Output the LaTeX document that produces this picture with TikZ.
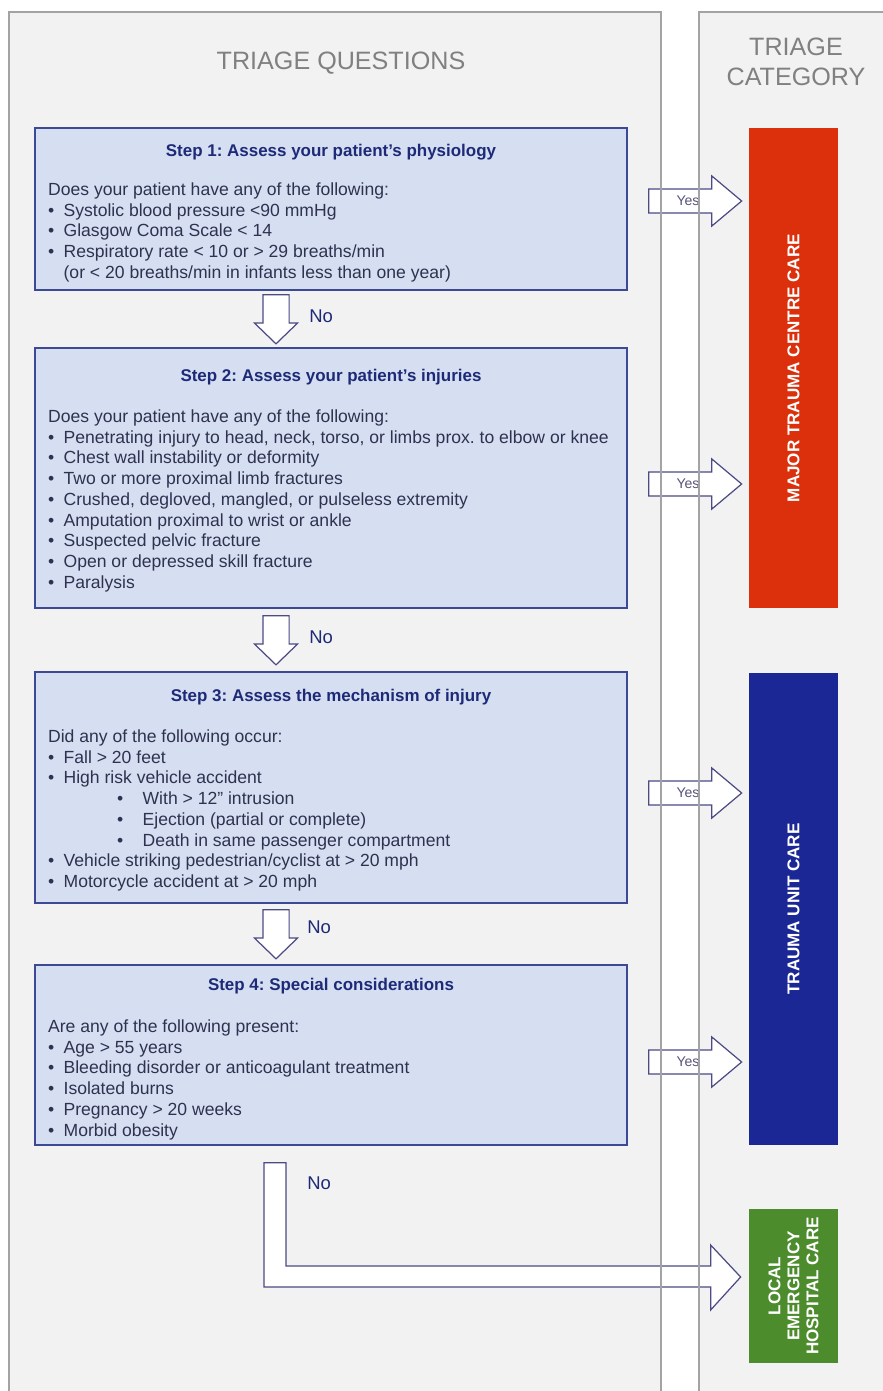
\documentclass[tikz,border=0pt]{standalone}
\usepackage{fontspec}
\setmainfont{Liberation Sans}
\usetikzlibrary{positioning, calc, shapes.arrows}

\definecolor{panelgray}{HTML}{F2F2F2}
\definecolor{panelline}{HTML}{A3A3A3}
\definecolor{boxfill}{HTML}{D5DFF1}
\definecolor{boxline}{HTML}{3C4A96}
\definecolor{titleblue}{HTML}{1E2A78}
\definecolor{bodytext}{HTML}{2E3250}
\definecolor{arrowline}{HTML}{4B4B86}
\definecolor{yestext}{HTML}{55557A}
\definecolor{majorred}{HTML}{DC2F0C}
\definecolor{unitblue}{HTML}{1B2795}
\definecolor{localgreen}{HTML}{4C8C2C}
\definecolor{headgray}{HTML}{808080}

\newcommand{\itm}{\makebox[3.1mm][l]{\textbullet}}
\newcommand{\subitm}{\hspace*{13.8mm}\makebox[5.1mm][l]{\textbullet}}

\tikzset{
  stepbox/.style={draw=boxline, fill=boxfill, line width=0.8pt, minimum width=118.4mm, inner sep=0pt},
  steptitle/.style={font=\fontsize{9.65}{11}\selectfont\bfseries, text=titleblue, inner sep=0pt, anchor=base},
  stepbody/.style={font=\fontsize{10}{11.8}\selectfont, text=bodytext, align=left, inner sep=0pt, anchor=north west},
  yesarrow/.style={shape=single arrow, draw=arrowline, fill=white, line width=0.7pt, minimum height=18.6mm, minimum width=10mm, single arrow head extend=2.5mm, single arrow tip angle=80, inner xsep=1pt, inner ysep=1.2mm, font=\fontsize{8}{9}\selectfont, text=yestext},
  noarrow/.style={shape=single arrow, draw=arrowline, fill=white, line width=0.7pt, minimum height=9.8mm, single arrow head extend=1.7mm, single arrow tip angle=92, shape border rotate=270, inner sep=2.5mm},
  nolabel/.style={font=\fontsize{10.5}{12}\selectfont, text=titleblue, inner sep=0pt, anchor=west},
  fatarrow/.style={draw=arrowline, fill=white, line width=0.7pt, line join=miter},
  category/.style={minimum width=17.8mm, inner sep=0pt},
  catlabel/.style={rotate=90, text=white, font=\fontsize{9.7}{10.8}\selectfont\bfseries, align=center},
  heading/.style={font=\fontsize{14.3}{17}\selectfont, text=headgray, align=center},
  panelrule/.style={draw=panelline, line width=0.6pt}
}

\begin{document}
\frenchspacing
\begin{tikzpicture}[x=0.2mm, y=-0.2mm]
\useasboundingbox (0,0) rectangle (883,1391);
\clip (0,0) rectangle (883,1391);

% columns
\fill [panelgray] (9,12) rectangle (661,1400);
\fill [panelgray] (699,12) rectangle (900,1400);

\node (qhead) [heading] at (341,63) {TRIAGE QUESTIONS};
\node (chead) [heading] at (796,62) {TRIAGE\\CATEGORY};

% steps
\node (s1) [stepbox, minimum height=32.4mm] at (331,209) {};
\node (s2) [stepbox, minimum height=52mm] at (331,478) {};
\node (s3) [stepbox, minimum height=46.2mm] at (331,787.5) {};
\node (s4) [stepbox, minimum height=36mm] at (331,1055) {};

\node (t1) [steptitle] at ($(s1.north)+(0,29)$) {Step 1: Assess your patient's physiology};
\node (b1) [stepbody] at ($(s1.north west)+(13.5,55)$) {Does your patient have any of the following:\\
\itm Systolic blood pressure <90 mmHg\\
\itm Glasgow Coma Scale < 14\\
\itm Respiratory rate < 10 or > 29 breaths/min\\
\hspace*{3.1mm}(or < 20 breaths/min in infants less than one year)};

\node (t2) [steptitle] at ($(s2.north)+(0,34)$) {Step 2: Assess your patient's injuries};
\node (b2) [stepbody] at ($(s2.north west)+(13.5,62)$) {Does your patient have any of the following:\\
\itm Penetrating injury to head, neck, torso, or limbs prox. to elbow or knee\\
\itm Chest wall instability or deformity\\
\itm Two or more proximal limb fractures\\
\itm Crushed, degloved, mangled, or pulseless extremity\\
\itm Amputation proximal to wrist or ankle\\
\itm Suspected pelvic fracture\\
\itm Open or depressed skill fracture\\
\itm Paralysis};

\node (t3) [steptitle] at ($(s3.north)+(0,30)$) {Step 3: Assess the mechanism of injury};
\node (b3) [stepbody] at ($(s3.north west)+(13.5,58)$) {Did any of the following occur:\\
\itm Fall > 20 feet\\
\itm High risk vehicle accident\\
\subitm With > 12'' intrusion\\
\subitm Ejection (partial or complete)\\
\subitm Death in same passenger compartment\\
\itm Vehicle striking pedestrian/cyclist at > 20 mph\\
\itm Motorcycle accident at > 20 mph};

\node (t4) [steptitle] at ($(s4.north)+(0,26)$) {Step 4: Special considerations};
\node (b4) [stepbody] at ($(s4.north west)+(13.5,55)$) {Are any of the following present:\\
\itm Age > 55 years\\
\itm Bleeding disorder or anticoagulant treatment\\
\itm Isolated burns\\
\itm Pregnancy > 20 weeks\\
\itm Morbid obesity};

% no arrows
\node (d1) [noarrow] at ($(s1.south)!0.5!(s2.north)+(-55,-6)$) {};
\node (d2) [noarrow] at ($(s2.south)!0.5!(s3.north)+(-55,-6)$) {};
\node (d3) [noarrow] at ($(s3.south)!0.5!(s4.north)+(-55,-6)$) {};
\node (n1) [nolabel] at ($(d1.center)+(33,3)$) {No};
\node (n2) [nolabel] at ($(d2.center)+(33,3)$) {No};
\node (n3) [nolabel] at ($(d3.center)+(31,-1)$) {No};

% categories
\node (major) [category, fill=majorred, minimum height=96mm] at (793.5,368) {};
\node (unit) [category, fill=unitblue, minimum height=94.4mm] at (793.5,909) {};
\node (local) [category, fill=localgreen, minimum height=30.8mm] at (793.5,1286) {};
\node [catlabel] at (major) {MAJOR TRAUMA CENTRE CARE};
\node [catlabel] at (unit) {TRAUMA UNIT CARE};
\node [catlabel] at (local) {LOCAL\\EMERGENCY\\HOSPITAL CARE};

% yes arrows
\node (y1) [yesarrow] at (688,201) {Yes};
\node (y2) [yesarrow] at (688,484) {Yes};
\node (y3) [yesarrow] at (688,793) {Yes};
\node (y4) [yesarrow] at (688,1062) {Yes};

% last no arrow
\coordinate (ltop) at ($(s4.south)+(-56,17)$);
\coordinate (ltip) at ($(local.west)+(-8,-9)$);
\draw [fatarrow] ($(ltop)+(-11,0)$) -- ($(ltop)+(11,0)$) |- ($(ltip)+(-30,-11)$) -- ($(ltip)+(-30,-32)$) -- (ltip)
  -- ($(ltip)+(-30,33)$) -- ($(ltip)+(-30,10)$) -| ($(ltop)+(-11,0)$) -- cycle;
\node (n4) [nolabel] at ($(ltop)+(32,21)$) {No};

% column rules
\draw [panelrule] (9,1400) -- (9,12) -- (661,12) -- (661,1400);
\draw [panelrule] (900,12) -- (699,12) -- (699,1400);
\end{tikzpicture}
\end{document}
